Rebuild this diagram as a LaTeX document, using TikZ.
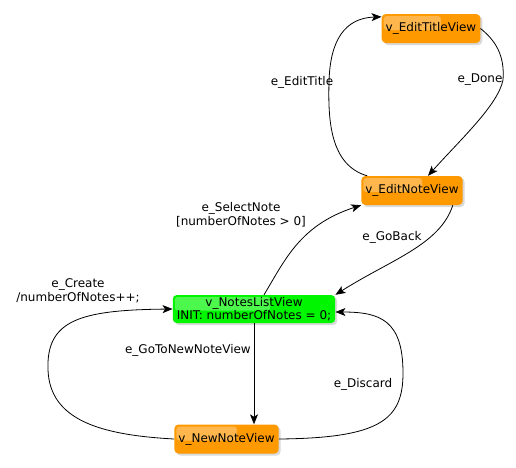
\documentclass[tikz,border=0pt]{standalone}
\usepackage{fontspec}
\setmainfont{DejaVu Sans}
\usetikzlibrary{arrows.meta,shadows,calc}
\definecolor{vieworange}{RGB}{255,153,0}
\definecolor{viewgreen}{RGB}{0,245,0}

\begin{document}
\begin{tikzpicture}[x=1pt, y=-1pt,
        view/.style={rounded corners=4pt, inner xsep=4pt, inner ysep=0pt, minimum height=29pt,
            align=center, font=\fontsize{12}{13.5}\selectfont,
            drop shadow={shadow xshift=2pt, shadow yshift=-2pt, opacity=0.3},
            path picture={\fill[white, opacity=0.3, rounded corners=3pt]
                ([xshift=2pt, yshift=-2pt]path picture bounding box.north west) rectangle
                ($(path picture bounding box.west)!0.6!(path picture bounding box.east)+(0pt,-1.5pt)$);}},
        evt/.style={font=\fontsize{12}{14}\selectfont, align=center, inner sep=0pt},
        trans/.style={-{Stealth[length=10pt, width=8pt, inset=2.5pt]}, line width=0.8pt}]
    \useasboundingbox (0,0) rectangle (516,467);

    \node[view, fill=vieworange] (edittitle) at (431,28.5) {v\_EditTitleView};
    \node[view, fill=vieworange] (editnote) at (412,190.5) {v\_EditNoteView};
    \node[view, fill=viewgreen, minimum height=28pt] (noteslist) at (254,309) {v\_NotesListView\\INIT: numberOfNotes = 0;};
    \node[view, fill=vieworange] (newnote) at (226.5,439) {v\_NewNoteView};

    \draw[trans] ([xshift=6pt]editnote.north west) .. controls (330,165) and (328,120) .. (329,82)
        .. controls (330,40) and (345,18) .. ([yshift=-3pt]edittitle.north west);
    \draw[trans] (edittitle.east) .. controls (495,40) and (505,55) .. (503,80)
        .. controls (498,105) and (460,140) .. ([xshift=16pt]editnote.north);
    \draw[trans] ([xshift=10pt]noteslist.north) .. controls (285,260) and (300,225) .. (editnote.south west);
    \draw[trans] ([xshift=-10pt]editnote.south east) .. controls (440,245) and (390,260) .. (noteslist.north east);
    \draw[trans] (noteslist.south) -- (noteslist.south |- newnote.north);
    \draw[trans] (newnote.west) .. controls (100,435) and (50,420) .. (48,370)
        .. controls (46,320) and (80,310) .. (noteslist.west);
    \draw[trans] (newnote.east) .. controls (380,438) and (403,420) .. (403,373)
        .. controls (403,320) and (380,312) .. ([yshift=-3pt]noteslist.east);

    \node[evt] (lbledittitle) at (302,82) {e\_EditTitle};
    \node[evt] (lbldone) at (480,80) {e\_Done};
    \node[evt] (lblselect) at (241,215) {e\_SelectNote\\{[numberOfNotes > 0]}};
    \node[evt] (lblgoback) at (392,237) {e\_GoBack};
    \node[evt, anchor=east] (lblnew) at (251,350) {e\_GoToNewNoteView};
    \node[evt] (lblcreate) at (78,290.5) {e\_Create\\/numberOfNotes++;};
    \node[evt] (lbldiscard) at (363,384) {e\_Discard};
\end{tikzpicture}
\end{document}
